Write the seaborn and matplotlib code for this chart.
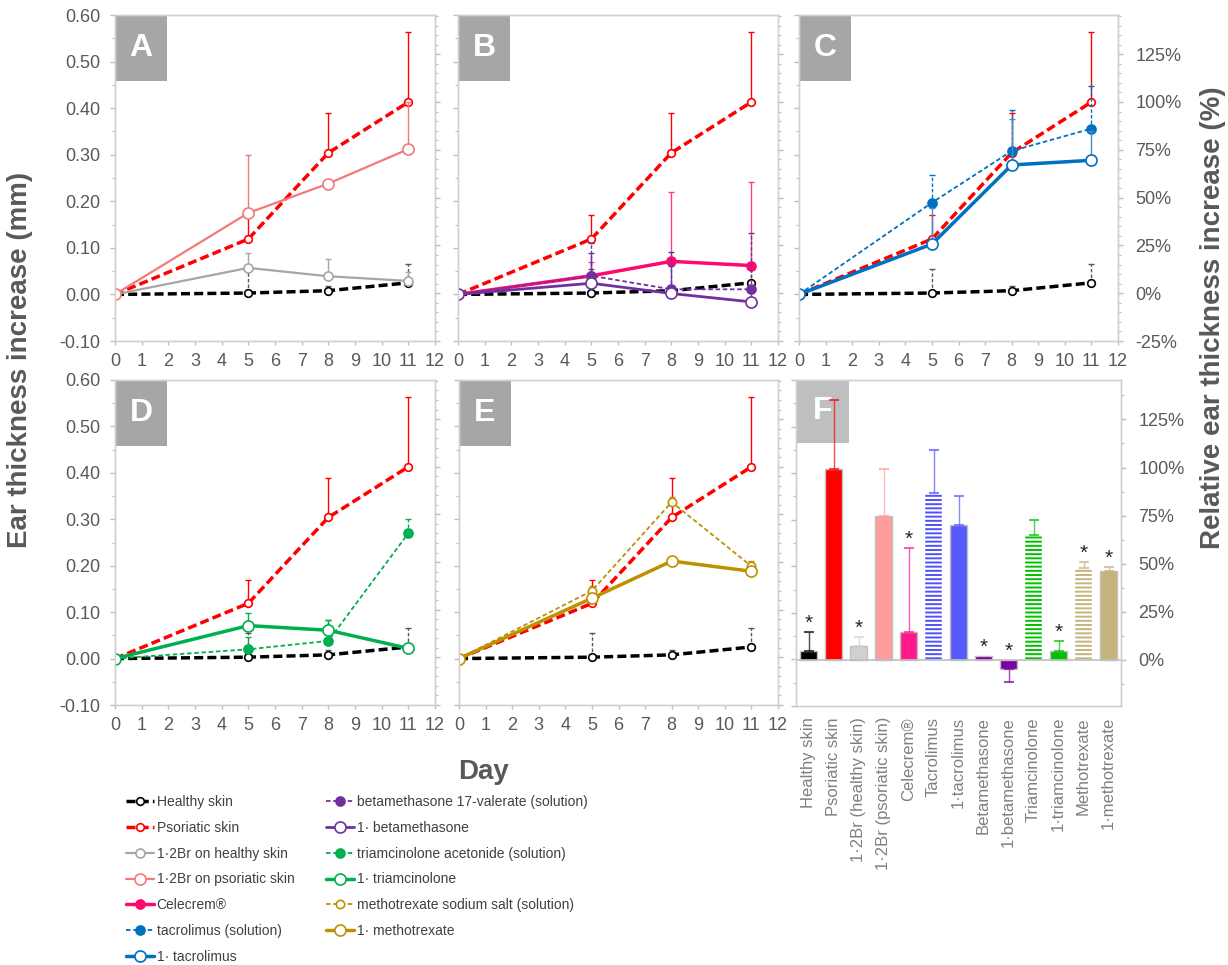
"""Ear thickness panels A-F: time courses per treatment and day-11 summary bars."""

import matplotlib

matplotlib.use("Agg")
import matplotlib.pyplot as plt
import numpy as np
import pandas as pd
import seaborn as sns
from matplotlib.patches import Rectangle
from matplotlib.ticker import FuncFormatter, MultipleLocator

W, H = 1228, 965
DAYS = [0, 5, 8, 11]

# mean ear thickness increase (mm) and the upper SD bar, per day
HEALTHY = [0.0, 0.003, 0.008, 0.025]
HEALTHY_ERR = [0.0, 0.052, 0.010, 0.040]
PSORIATIC = [0.0, 0.119, 0.304, 0.413]
PSORIATIC_ERR = [0.0, 0.051, 0.086, 0.151]
BR_HEALTHY = [0.0, 0.057, 0.039, 0.029]
BR_HEALTHY_ERR = [0.0, 0.033, 0.037, 0.019]
BR_PSORIATIC = [0.0, 0.175, 0.238, 0.312]
BR_PSORIATIC_ERR = [0.0, 0.125, 0.0, 0.102]
CELECREM = [0.0, 0.040, 0.071, 0.062]
CELECREM_ERR = [0.0, 0.030, 0.150, 0.179]
BETA_SOL = [0.0, 0.040, 0.011, 0.011]
BETA_SOL_ERR = [0.0, 0.070, 0.080, 0.121]
BETA_1 = [0.0, 0.024, 0.002, -0.016]
BETA_1_ERR = [0.0, 0.066, 0.060, 0.028]
TACRO_SOL = [0.0, 0.197, 0.308, 0.356]
TACRO_SOL_ERR = [0.0, 0.060, 0.089, 0.092]
TACRO_1 = [0.0, 0.108, 0.278, 0.288]
TACRO_1_ERR = [0.0, 0.078, 0.098, 0.062]
TRIAM_SOL = [0.0, 0.020, 0.038, 0.270]
TRIAM_SOL_ERR = [0.0, 0.027, 0.045, 0.030]
TRIAM_1 = [0.0, 0.071, 0.061, 0.022]
TRIAM_1_ERR = [0.0, 0.027, 0.022, 0.010]
MTX_SOL = [0.0, 0.146, 0.337, 0.199]
MTX_SOL_ERR = [0.0, 0.010, 0.010, 0.011]
MTX_1 = [0.0, 0.130, 0.210, 0.188]
MTX_1_ERR = [0.0, 0.005, 0.007, 0.007]

# panel F: relative increase at day 11 (%)
F_LABELS = ["Healthy skin", "Psoriatic skin", "1·2Br (healthy skin)", "1·2Br (psoriatic skin)",
            "Celecrem®", "Tacrolimus", "1·tacrolimus", "Betamethasone", "1·betamethasone",
            "Triamcinolone", "1·triamcinolone", "Methotrexate", "1·methotrexate"]
F_VALUES = [4.8, 99.0, 7.4, 75.0, 14.6, 87.0, 70.0, 2.0, -5.0, 65.0, 4.8, 48.0, 46.0]
F_ERR = [9.8, 36.0, 4.6, 24.0, 43.4, 22.0, 15.0, 0.0, 6.7, 7.5, 5.0, 3.0, 2.5]
F_STAR = [True, False, True, False, True, False, False, True, True, False, True, True, True]
F_HATCHED = [False, False, False, False, False, True, False, False, False, True, False, True, False]
F_COLORS = ["#000000", "#ff0000", "#d0d0d0", "#ff9c9c", "#ff1a8c", "#5050ff", "#5858ff",
            "#7a00a0", "#7a00a0", "#00c000", "#00c000", "#c4b47c", "#c4b47c"]

RED = "#ff0000"
SERIES = {
    "healthy": ("Healthy skin", HEALTHY, HEALTHY_ERR,
                dict(color="#000000", ls=(0, (2.6, 1.2)), lw=2.5, ms=5.5, fill="white", ecolor="#595959", edash=True)),
    "psoriatic": ("Psoriatic skin", PSORIATIC, PSORIATIC_ERR,
                  dict(color=RED, ls=(0, (2.6, 1.2)), lw=2.5, ms=5.5, fill="white", ecolor=RED, edash=False)),
    "br_healthy": ("1·2Br on healthy skin", BR_HEALTHY, BR_HEALTHY_ERR,
                   dict(color="#a6a6a6", ls="-", lw=1.6, ms=6.5, fill="white", ecolor="#a6a6a6", edash=False)),
    "br_psoriatic": ("1·2Br on psoriatic skin", BR_PSORIATIC, BR_PSORIATIC_ERR,
                     dict(color="#f47a7a", ls="-", lw=1.6, ms=8, fill="white", ecolor="#f47a7a", edash=False)),
    "celecrem": ("Celecrem®", CELECREM, CELECREM_ERR,
                 dict(color="#ff0a6c", ls="-", lw=2.5, ms=6.5, fill="#ff0a6c", ecolor="#ff3d8b", edash=False)),
    "tacro_sol": ("tacrolimus (solution)", TACRO_SOL, TACRO_SOL_ERR,
                  dict(color="#0070c0", ls=(0, (2.5, 1.5)), lw=1.3, ms=6.5, fill="#0070c0", ecolor="#0070c0", edash=True)),
    "tacro_1": ("1· tacrolimus", TACRO_1, TACRO_1_ERR,
                dict(color="#0070c0", ls="-", lw=2.5, ms=8, fill="white", ecolor="#3d8fd0", edash=False)),
    "beta_sol": ("betamethasone 17-valerate (solution)", BETA_SOL, BETA_SOL_ERR,
                 dict(color="#7030a0", ls=(0, (2.5, 1.5)), lw=1.3, ms=6.5, fill="#7030a0", ecolor="#7030a0", edash=True)),
    "beta_1": ("1· betamethasone", BETA_1, BETA_1_ERR,
               dict(color="#7030a0", ls="-", lw=2.0, ms=8, fill="white", ecolor="#7030a0", edash=False)),
    "triam_sol": ("triamcinolone acetonide (solution)", TRIAM_SOL, TRIAM_SOL_ERR,
                  dict(color="#00b050", ls=(0, (2.5, 1.5)), lw=1.3, ms=6.5, fill="#00b050", ecolor="#00b050", edash=True)),
    "triam_1": ("1· triamcinolone", TRIAM_1, TRIAM_1_ERR,
                dict(color="#00b050", ls="-", lw=2.5, ms=8, fill="white", ecolor="#00b050", edash=False)),
    "mtx_sol": ("methotrexate sodium salt (solution)", MTX_SOL, MTX_SOL_ERR,
                dict(color="#bf9000", ls=(0, (2.5, 1.5)), lw=1.3, ms=6, fill="white", ecolor="#bf9000", edash=True)),
    "mtx_1": ("1· methotrexate", MTX_1, MTX_1_ERR,
              dict(color="#bf9000", ls="-", lw=2.5, ms=8, fill="white", ecolor="#bf9000", edash=False)),
}

PANELS = {
    "A": ["healthy", "psoriatic", "br_healthy", "br_psoriatic"],
    "B": ["healthy", "psoriatic", "celecrem", "beta_sol", "beta_1"],
    "C": ["healthy", "psoriatic", "tacro_sol", "tacro_1"],
    "D": ["healthy", "psoriatic", "triam_sol", "triam_1"],
    "E": ["healthy", "psoriatic", "mtx_sol", "mtx_1"],
}
LEGEND_ORDER = ["healthy", "psoriatic", "br_healthy", "br_psoriatic", "celecrem", "tacro_sol",
                "tacro_1", "beta_sol", "beta_1", "triam_sol", "triam_1", "mtx_sol", "mtx_1"]

TEXT_GRAY = "#595959"
SPINE_GRAY = "#d0d0d0"
TICK_GRAY = "#bfbfbf"

sns.set_theme(style="white")
plt.rcParams["font.family"] = ["Liberation Sans", "DejaVu Sans"]
plt.rcParams["hatch.linewidth"] = 1.6

fig = plt.figure(figsize=(W / 100, H / 100), dpi=100)


def add_axes_px(x0, y0, x1, y1):
    return fig.add_axes([x0 / W, 1 - y1 / H, (x1 - x0) / W, (y1 - y0) / H])


def style_axes(ax, axr, show_mm, show_pct, pct_minor=5):
    for a in (ax, axr):
        for spine in a.spines.values():
            spine.set_color(SPINE_GRAY)
            spine.set_linewidth(1.0)
    ax.set_ylim(-0.10, 0.60)
    ax.yaxis.set_major_locator(MultipleLocator(0.1))
    ax.yaxis.set_minor_locator(MultipleLocator(0.05))
    ax.yaxis.set_major_formatter(FuncFormatter(lambda v, _: f"{v:.2f}"))
    ax.tick_params(axis="y", which="major", left=True, length=3.5, width=1, color=TICK_GRAY,
                   labelleft=show_mm, labelsize=13, labelcolor=TEXT_GRAY, pad=7)
    ax.tick_params(axis="y", which="minor", left=True, length=2.5, width=0.8, color=TICK_GRAY)
    axr.yaxis.set_major_locator(MultipleLocator(25))
    axr.yaxis.set_minor_locator(MultipleLocator(pct_minor))
    axr.yaxis.set_major_formatter(FuncFormatter(lambda v, _: f"{v:.0f}%"))
    axr.tick_params(axis="y", which="major", right=True, length=3.5, width=1, color=TICK_GRAY,
                    labelright=show_pct, labelsize=13, labelcolor=TEXT_GRAY, pad=9)
    axr.tick_params(axis="y", which="minor", right=True, length=2.5, width=0.8, color=TICK_GRAY)
    ax.grid(False)
    axr.grid(False)


def panel_tag(ax, letter, color="#a6a6a6", height=0.2025):
    ax.add_patch(Rectangle((0, 1 - height), 0.163, height, transform=ax.transAxes,
                           facecolor=color, edgecolor="none", zorder=0.5, clip_on=False))
    ax.text(0.163 / 2, 1 - height / 2, letter, transform=ax.transAxes, ha="center", va="center",
            fontsize=23, fontweight="bold", color="white", zorder=0.6)


handles = {}


def draw_series(ax, key, z):
    label, vals, errs, st = SERIES[key]
    sns.lineplot(x=DAYS, y=vals, ax=ax, errorbar=None, color=st["color"], linestyle=st["ls"],
                 linewidth=st["lw"], marker="o", markersize=st["ms"], markerfacecolor=st["fill"],
                 markeredgecolor=st["color"], markeredgewidth=1.2, zorder=z)
    line = ax.lines[-1]
    handles.setdefault(key, line)
    days = np.array(DAYS)
    vals = np.array(vals)
    errs = np.array(errs)
    keep = errs > 0
    eb = ax.errorbar(days[keep], vals[keep], yerr=[np.zeros(keep.sum()), errs[keep]], fmt="none",
                     ecolor=st["ecolor"], elinewidth=1.0, capsize=2.5, capthick=1.0, zorder=z - 0.5)
    if st["edash"]:
        eb.lines[2][0].set_linestyle((0, (2.5, 1.5)))


line_boxes = {
    "A": (115, 15, 435, 341),
    "B": (458, 15, 778, 341),
    "C": (799, 15, 1118, 341),
    "D": (115, 380, 435, 705),
    "E": (459, 380, 778, 705),
}

for letter, box in line_boxes.items():
    ax = add_axes_px(*box)
    axr = ax.twinx()
    axr.set_ylim(-25, 145.5)
    for i, key in enumerate(PANELS[letter]):
        draw_series(ax, key, 3 + i)
    ax.set_xlim(0, 12)
    ax.set_xticks(range(13))
    ax.tick_params(axis="x", bottom=True, length=3, width=1, color=TICK_GRAY,
                   labelsize=13, labelcolor=TEXT_GRAY, pad=6)
    ax.set_xlabel("")
    ax.set_ylabel("")
    style_axes(ax, axr, show_mm=letter in ("A", "D"), show_pct=letter == "C")
    panel_tag(ax, letter)

# panel F: day 11 summary bars on the percentage scale
ax = add_axes_px(796, 380, 1121, 706)
axr = ax.twinx()
bars = pd.DataFrame({"treatment": F_LABELS, "relative": F_VALUES})
sns.barplot(data=bars, x="treatment", y="relative", hue="treatment", palette=F_COLORS,
            legend=False, errorbar=None, width=0.67, saturation=1, edgecolor="#bfbfbf",
            linewidth=1.0, ax=axr, zorder=2)
for patch, hatched in zip(axr.patches, F_HATCHED):
    if hatched:
        patch.set_hatch("----")
        patch.set_edgecolor("white")
        patch.set_linewidth(0.3)
for i, (val, err, col) in enumerate(zip(F_VALUES, F_ERR, F_COLORS)):
    if err <= 0:
        continue
    yerr = [[err], [0]] if val < 0 else [[0], [err]]
    axr.errorbar([i], [val], yerr=yerr, fmt="none", ecolor=col, elinewidth=1.0, alpha=0.7,
                 capsize=3.5, capthick=1.5, zorder=3)
for i, (val, err, star) in enumerate(zip(F_VALUES, F_ERR, F_STAR)):
    if star:
        top = max(val + (err if val > 0 else 0), 0)
        axr.text(i, top + 4.5, "*", ha="center", va="center", fontsize=15, color="#262626")
axr.axhline(0, color="#bfbfbf", lw=1.2, zorder=2.5)
axr.set_ylim(-24, 145.5)
axr.set_xlabel("")
axr.set_ylabel("")
ax.set_xticks(range(len(F_LABELS)))
ax.set_xticklabels(F_LABELS, rotation=90, va="top")
ax.set_xlim(-0.5, len(F_LABELS) - 0.5)
ax.tick_params(axis="x", bottom=False, labelsize=12, labelcolor="#808080", pad=2)
style_axes(ax, axr, show_mm=False, show_pct=True, pct_minor=12.5)
panel_tag(ax, "F", color="#bfbfbf", height=0.193)

# shared labels
fig.text(20 / W, 1 - 360 / H, "Ear thickness increase (mm)", rotation=90, ha="center", va="center",
         fontsize=20, fontweight="bold", color=TEXT_GRAY)
fig.text(1213 / W, 1 - 318 / H, "Relative ear thickness increase (%)", rotation=90, ha="center",
         va="center", fontsize=20, fontweight="bold", color=TEXT_GRAY)
fig.text(483 / W, 1 - 772 / H, "Day", ha="center", va="center", fontsize=20, fontweight="bold",
         color=TEXT_GRAY)

fig.legend([handles[k] for k in LEGEND_ORDER], [SERIES[k][0] for k in LEGEND_ORDER],
           loc="upper left", bbox_to_anchor=(126 / W, 1 - 795 / H), ncol=2, frameon=False,
           fontsize=10, handlelength=2.0, handletextpad=0.2, columnspacing=2.3,
           labelspacing=0.85, borderpad=0, borderaxespad=0, labelcolor="#404040")

fig.savefig("out.png", dpi=100)
